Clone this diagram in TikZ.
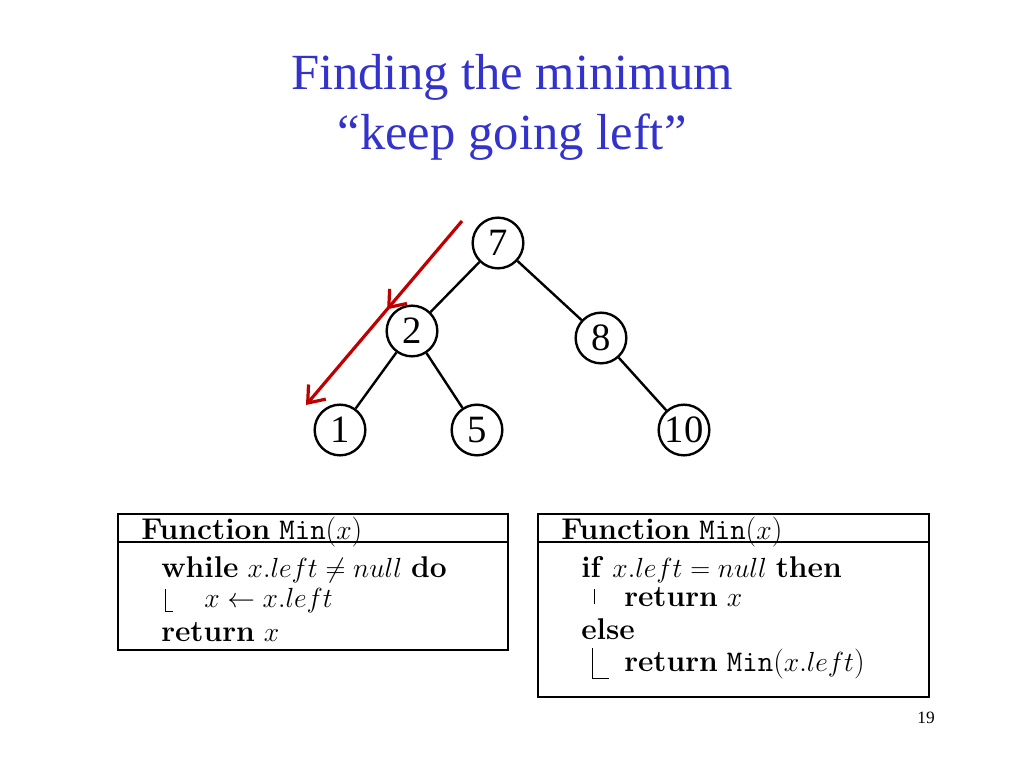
\documentclass[tikz,border=0pt]{standalone}
\usepackage{fontspec}
\newfontfamily\tnr{Liberation Serif}
\usetikzlibrary{decorations.markings,arrows.meta}
\definecolor{titleblue}{RGB}{51,51,204}
\definecolor{arrowred}{RGB}{192,0,0}
\begin{document}
\begin{tikzpicture}[x=0.75pt,y=-0.75pt,
  tnode/.style={circle,draw,line width=1.8pt,minimum size=38pt,inner sep=0pt,font=\tnr\fontsize{29}{29}\selectfont},
  edge/.style={line width=1.8pt},
  algo/.style={anchor=base west,inner sep=0pt,font=\fontsize{22.5}{26}\selectfont},
  box/.style={draw,line width=0.8pt}]
\useasboundingbox (0,0) rectangle (1024,768);
\node[font=\tnr\fontsize{38}{44}\selectfont,text=titleblue] (t1) at (512,77) {Finding the minimum};
\node[font=\tnr\fontsize{38}{44}\selectfont,text=titleblue] (t2) at (512,137) {“keep going left”};
\node[tnode] (n7) at (498,243) {7};
\node[tnode] (n2) at (412,331) {2};
\node[tnode] (n8) at (601,338) {8};
\node[tnode] (n1) at (340,430) {1};
\node[tnode] (n5) at (477,430) {5};
\node[tnode] (n10) at (684,430) {10};
\draw[edge] (n7)--(n2); \draw[edge] (n7)--(n8);
\draw[edge] (n2)--(n1); \draw[edge] (n2)--(n5);
\draw[edge] (n8)--(n10);
\coordinate (a0) at (462,221); \coordinate (a1) at (306,405);
\draw[arrowred,line width=2.4pt,-{Straight Barb[length=11pt,width=17pt]},
  postaction={decorate},decoration={markings,mark=at position 0.48 with {\arrow{Straight Barb[length=11pt,width=17pt]}}}] (a0)--(a1);
% left box
\draw[box] (118,514) rectangle (508,650);
\draw[box] (118,542)--(508,542);
\node[algo] (l0) at (141,539) {\textbf{Function} \texttt{Min}($x$)};
\node[algo] (l1) at (161,577) {\textbf{while} $x.left\neq null$ \textbf{do}};
\node[algo] (l2) at (204,607) {$x\leftarrow x.left$};
\node[algo] (l3) at (161,641) {\textbf{return} $x$};
\draw[line width=0.7pt] (165,589)--(165,611)--(173,611);
% right box
\draw[box] (538,514) rectangle (929,697);
\draw[box] (538,542)--(929,542);
\node[algo] (r0) at (561,539) {\textbf{Function} \texttt{Min}($x$)};
\node[algo] (r1) at (581,577) {\textbf{if} $x.left= null$ \textbf{then}};
\node[algo] (r2) at (624,606) {\textbf{return} $x$};
\node[algo] (r3) at (581,639) {\textbf{else}};
\node[algo] (r4) at (624,671) {\textbf{return} \texttt{Min}($x.left$)};
\draw[line width=0.7pt] (594,589)--(594,604);
\draw[line width=0.7pt] (592,648)--(592,678)--(609,678);
\node[font=\tnr\fontsize{13}{15}\selectfont] (pg) at (926,718) {19};
\end{tikzpicture}
\end{document}
